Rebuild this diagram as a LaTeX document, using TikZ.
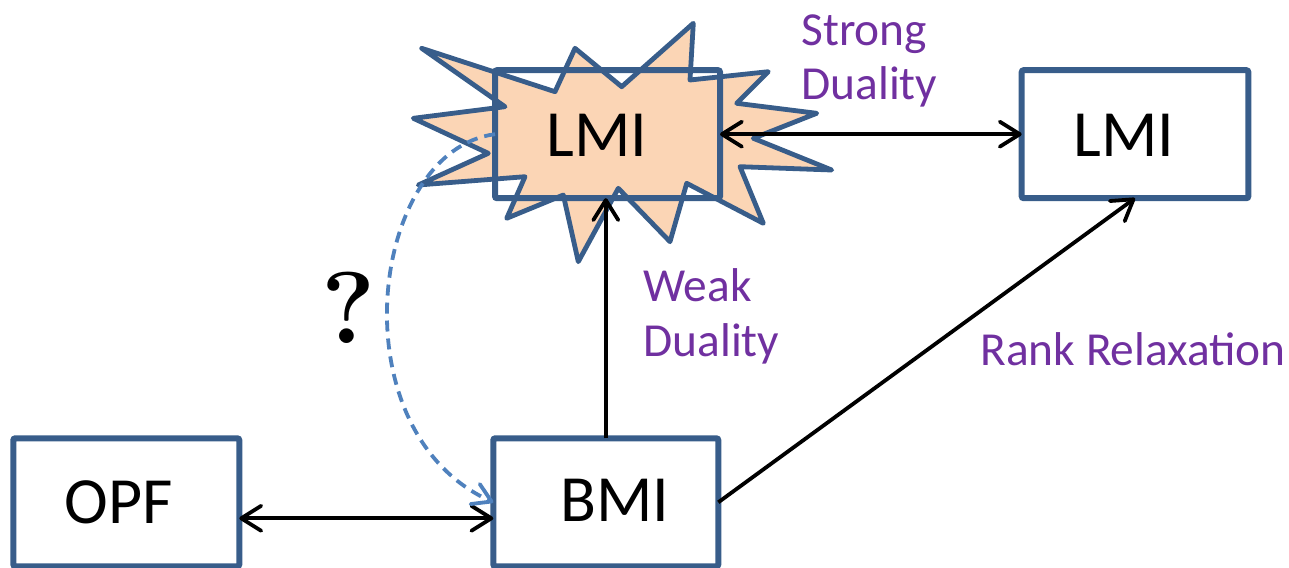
\documentclass[tikz,border=0pt]{standalone}
\usepackage{fontspec}
\newfontfamily\calibri{Carlito}
\usetikzlibrary{arrows.meta,calc}
\definecolor{boxblue}{HTML}{385D8A}
\definecolor{burst}{HTML}{FBD5B5}
\definecolor{labelpurple}{HTML}{7030A0}
\definecolor{dashblue}{HTML}{4F81BD}
\begin{document}
\begin{tikzpicture}[x=0.5pt,y=-0.5pt,
  box/.style={draw=boxblue,line width=3pt,rounded corners=1pt,
    minimum width=#1,minimum height=64pt,inner sep=0pt,outer sep=0pt},
  box/.default=113pt,
  boxtext/.style={anchor=base,inner sep=0pt,font=\calibri\fontsize{33}{40}\selectfont},
  edgetext/.style={anchor=base west,inner sep=0pt,align=left,text=labelpurple,
    font=\calibri\fontsize{23.7}{27.5}\selectfont},
  link/.style={draw=black,line width=1.9pt},
  >={Straight Barb[length=10pt,width=12.5pt,round]}]
\useasboundingbox (0,0) rectangle (1289,567);
\clip (0,0) rectangle (1289,567);

% explosion burst behind the highlighted LMI box
\draw[draw=boxblue,fill=burst,line width=2.4pt,line join=round]
  (421.7,48.3) -- (555,91.7) -- (575,48.3) -- (621.7,86.7) -- (693.3,23.3)
  -- (690,80) -- (768.3,71.7) -- (736.7,103.3) -- (816.7,113.3)
  -- (753.3,138.3) -- (831.7,170) -- (740,166.7) -- (763.3,223.3)
  -- (686.7,183.3) -- (670,241.7) -- (618.3,188.3) -- (578.3,261.7)
  -- (563.3,195) -- (506.7,218.3) -- (525,176.7) -- (418.3,185)
  -- (488.3,153.3) -- (413.3,118.3) -- (505,106.7) -- cycle;

% boxes
\node[box=112.5pt] (lmiA) at (607.5,134.2) {};
\node[box=113.3pt] (lmiB) at (1135,134.2) {};
\node[box=112.5pt] (bmi) at (605.8,502.3) {};
\node[box=113pt] (opf) at (126.3,502.3) {};

\node[boxtext] (lmiAtext) at (597,156.7) {LMI};
\node[boxtext] (lmiBtext) at (1124,156.7) {LMI};
\node[boxtext] (bmitext) at (615,521.7) {BMI};
\node[boxtext] (opftext) at (118.5,523.3) {OPF};

% connectors
\draw[link,<->] (lmiA.east) -- (lmiB.west);
\draw[link,<->] ($(opf.east)+(0,16)$) -- ($(bmi.west)+(0,16)$);
\draw[link,->] (bmi.north) -- (bmi.north |- lmiA.south);
\draw[link,->] (bmi.east) -- (lmiB.south);
\draw[dashblue,line width=1.9pt,dash pattern=on 5.5pt off 3.5pt,
  -{Straight Barb[length=9pt,width=11pt,round]}]
  (lmiA.west) .. controls (370,150) and (335,430) .. (bmi.west);

% labels (base anchor sits on the last line)
\node[edgetext] (strong) at (801,100) {Strong\\Duality};
\node[edgetext] (weak) at (643,356.7) {Weak\\Duality};
\node[edgetext] (rank) at (980,365) {Rank Relaxation};
\node[anchor=base,inner sep=0pt,font=\bfseries\fontsize{51}{60}\selectfont] (question) at (349,343) {?};
\end{tikzpicture}
\end{document}
